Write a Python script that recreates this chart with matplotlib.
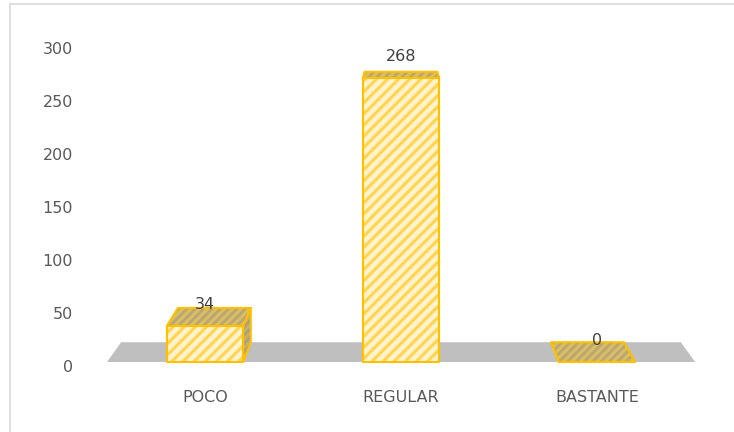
import matplotlib.pyplot as plt
from matplotlib.patches import Polygon
from matplotlib.lines import Line2D
from matplotlib.transforms import ScaledTranslation

categorias = ['POCO', 'REGULAR', 'BASTANTE']
valores = [34, 268, 0]
yticks = [0, 50, 100, 150, 200, 250, 300]

plt.rcParams['font.family'] = ['DejaVu Sans']
plt.rcParams['hatch.linewidth'] = 2.2

fig = plt.figure(figsize=(7.34, 4.32), dpi=100)
W, H = 734, 432
# axes box in pixels: left 80, right 720, bottom 52, top 412
ax = fig.add_axes([80 / W, 52 / H, 640 / W, 360 / H])
ax.set_xlim(-0.6378, 2.6276)
ax.set_ylim(-16.98, 322.64)

# perspective: back plane is the front plane shrunk toward a vanishing point
xv, yv, s = 1.0, 388.7, 0.952


def atras(x, y):
    return (xv + s * (x - xv), yv + s * (y - yv))


def cara(pts, fondo, rayado, hatch):
    ax.add_patch(Polygon(pts, closed=True, facecolor=fondo, edgecolor=rayado,
                         hatch=hatch, linewidth=0, clip_on=False))
    ax.add_patch(Polygon(pts, closed=True, facecolor='none', edgecolor='#ffc000',
                         linewidth=1.5, clip_on=False, joinstyle='round'))


# floor
x0, x1 = -0.5, 2.5
suelo = [(x0, 0), (x1, 0), atras(x1, 0), atras(x0, 0)]
ax.add_patch(Polygon(suelo, closed=True, facecolor='#bfbfbf', edgecolor='none',
                     clip_on=False))

ancho = 0.39
for i, v in enumerate(valores):
    l, r = i - ancho / 2, i + ancho / 2
    # side face toward the vanishing point
    if i < xv:
        lado = [(r, 0), (r, v), atras(r, v), atras(r, 0)]
        cara(lado, '#a89f86', '#c9b06a', '////')
    elif i > xv:
        lado = [(l, 0), (l, v), atras(l, v), atras(l, 0)]
        cara(lado, '#a89f86', '#c9b06a', '////')
    # top face
    tapa = [(l, v), (r, v), atras(r, v), atras(l, v)]
    cara(tapa, '#b9a674', '#d9bf62', '////')
    # front face
    if v > 0:
        frente = [(l, 0), (r, 0), (r, v), (l, v)]
        cara(frente, '#fff2cc', '#ffd54f', '///')
    # value label
    ax.annotate(str(v), (i, v), xytext=(0, 12), textcoords='offset points',
                ha='center', va='baseline', fontsize=11.5, color='#404040')

ax.set_yticks(yticks)
ax.set_xticks(range(len(categorias)))
ax.set_xticklabels(categorias)
ax.tick_params(axis='both', length=0, labelsize=11.5, labelcolor='#595959')
ax.tick_params(axis='y', pad=5)
ax.tick_params(axis='x', pad=7)
for lab in ax.get_yticklabels():
    lab.set_transform(lab.get_transform() + ScaledTranslation(0, -0.04, fig.dpi_scale_trans))
for sp in ax.spines.values():
    sp.set_visible(False)
ax.patch.set_visible(False)

# chart area border (left and top edges)
fig.add_artist(Line2D([10 / W, 10 / W], [0, 1 - 4 / H], color='#d9d9d9', lw=1.2))
fig.add_artist(Line2D([10 / W, 1], [1 - 4 / H, 1 - 4 / H], color='#d9d9d9', lw=1.2))

fig.savefig('out.png', dpi=100)
